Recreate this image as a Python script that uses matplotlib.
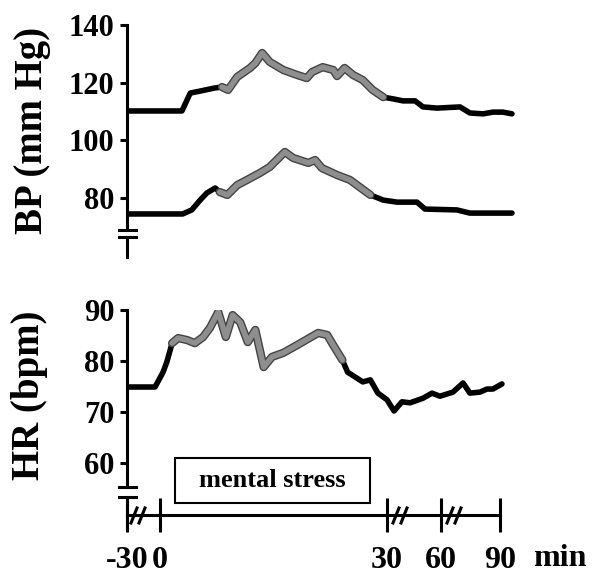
import numpy as np
import matplotlib
matplotlib.use('Agg')
import matplotlib.pyplot as plt
from matplotlib import patheffects as pe
from matplotlib.patches import Rectangle

plt.rcParams['font.family'] = ['Liberation Serif', 'DejaVu Serif']
plt.rcParams['font.weight'] = 'bold'

# systolic BP (mm Hg) vs time (min)
sys_t = [-30, 2.9, 4.0, 5.3, 7.3, 8.2, 9.0, 10.2, 11.9, 12.6, 13.5, 14.5, 16.3, 18.1,
         19.4, 20.1, 21.5, 22.9, 23.4, 24.4, 25.5, 26.8, 28.1, 29.5, 33.3, 38.9, 45.6,
         50, 57.8, 69.7, 74.7, 81.4, 86.4, 91.5, 96.1]
sys_v = [110.2, 110.2, 116.4, 117.1, 118.2, 118.5, 117.5, 122, 125.1, 126.8, 130.3, 127.2,
         124.4, 122.7, 121.6, 123.7, 125.4, 124.4, 122.3, 125.1, 122.7, 120.9, 117.5, 115,
         114.4, 113.7, 113.7, 111.6, 111.2, 111.6, 109.5, 109.2, 109.8, 109.8, 109.2]
sys_gray = (8.2, 29.5)

# diastolic BP
dia_t = [-30, 3.0, 4.2, 5.3, 6.2, 7.3, 7.9, 8.9, 10.2, 11.5, 13.2, 14.5, 16.5, 17.6, 19.6,
         20.5, 21.4, 23.4, 25.1, 26.4, 27.8, 29.5, 35.6, 46.7, 51.1, 68.1, 74.7, 96.1]
dia_v = [74.5, 74.5, 75.9, 79.3, 81.8, 83.5, 82.1, 81.1, 84.5, 86.3, 88.7, 90.8, 96, 93.9,
         92.2, 93.2, 90.4, 88, 86.3, 83.8, 81.1, 79.3, 78.6, 78.6, 76.2, 75.9, 74.8, 74.8]
dia_gray = (7.9, 27.8)

# heart rate (bpm)
hr_t = [-30, -4.5, 0.4, 0.9, 1.6, 2.4, 3.6, 4.6, 5.7, 6.6, 7.7, 8.7, 9.6, 10.6, 11.6, 12.6,
        13.7, 14.8, 16.3, 18.1, 20.9, 22.1, 22.9, 24.1, 24.8, 26.8, 27.8, 28.8, 30.0, 33.9,
        38.3, 42.8, 50, 55, 59.4, 66.1, 71.2, 74.7, 79.8, 83.4, 86.4, 91]
hr_v = [74.9, 74.9, 77.8, 79.8, 83.5, 84.5, 84.1, 83.5, 84.7, 86.5, 89.6, 84.7, 89, 87.6,
        83.7, 86.1, 78.8, 80.8, 81.6, 83.1, 85.5, 85.1, 83.1, 80.2, 77.8, 75.9, 76.3, 73.7,
        72.4, 70.2, 72, 71.8, 72.7, 73.7, 73.1, 73.9, 75.7, 73.7, 73.9, 74.5, 74.5, 75.5]
hr_gray = (1.6, 24.1)

stress_period = (2.0, 27.8)
x_ticks = [-30, 0, 30, 60, 90]
x_labels = ['-30', '0', '30', '60', '90']

# broken time axis: minutes -> pixel offset
BRK_T = [-60, -30, 0, 30, 60, 90, 120]
BRK_PX = [-33, 0, 33, 260, 314, 373, 432]


def fwd(t):
    return np.interp(t, BRK_T, BRK_PX)


def inv(p):
    return np.interp(p, BRK_PX, BRK_T)


W, H = 592, 577
X0 = 127
XMAX = 104
LW = 2.2

fig = plt.figure(figsize=(W / 100, H / 100), dpi=100)
axw = fwd(XMAX) / W
ax1 = fig.add_axes([X0 / W, 1 - 257 / H, axw, 232 / H])
ax2 = fig.add_axes([X0 / W, 1 - 515 / H, axw, 205 / H])

gray_fx = [pe.Stroke(linewidth=6, foreground='#444444'), pe.Normal()]


def draw_series(ax, t, v, gray):
    t = np.array(t)
    v = np.array(v)
    ax.plot(t, v, color='black', lw=4, solid_capstyle='round', solid_joinstyle='round')
    m = (t >= gray[0]) & (t <= gray[1])
    ax.plot(t[m], v[m], color='#8e8e8e', lw=4, solid_capstyle='round',
            solid_joinstyle='round', path_effects=gray_fx)


def y_break(ax, top, bot, low_end):
    tr = ax.get_yaxis_transform()
    ax.spines['left'].set_bounds(top, ax.get_ylim()[1])
    ax.plot([0, 0], [bot, low_end], color='black', lw=LW, transform=tr, clip_on=False)
    hw = 8.5 / (fwd(XMAX))
    for y in (top, bot):
        ax.plot([-hw, hw], [y, y], color='black', lw=LW, transform=tr, clip_on=False)


for ax in (ax1, ax2):
    ax.set_xscale('function', functions=(fwd, inv))
    ax.set_xlim(-30, XMAX)
    for s in ('top', 'right'):
        ax.spines[s].set_visible(False)
    ax.spines['left'].set_linewidth(LW)
    ax.tick_params(axis='y', direction='out', length=5, width=LW, labelsize=22, pad=4)
    ax.patch.set_alpha(0)

# BP panel
draw_series(ax1, sys_t, sys_v, sys_gray)
draw_series(ax1, dia_t, dia_v, dia_gray)
ax1.set_ylim(140 - 232 / 2.885, 140)
ax1.set_yticks([80, 100, 120, 140])
ax1.spines['bottom'].set_visible(False)
ax1.set_xticks([])
y_break(ax1, 140 - 205 / 2.885, 140 - 212 / 2.885, 140 - 232 / 2.885)

# HR panel
draw_series(ax2, hr_t, hr_v, hr_gray)
ax2.set_ylim(90 - 205 / 5.1, 90)
ax2.set_yticks([60, 70, 80, 90])
y_break(ax2, 90 - 177 / 5.1, 90 - 187 / 5.1, 90 - 217 / 5.1)
ax2.spines['bottom'].set_bounds(-30, 90)
ax2.spines['bottom'].set_linewidth(LW)
ax2.set_xticks(x_ticks)
ax2.set_xticklabels(x_labels)
ax2.tick_params(axis='x', direction='inout', length=24, width=LW, labelsize=23, pad=10)

# mental stress box
y_lo, y_hi = 90 - 193 / 5.1, 90 - 148 / 5.1
ax2.add_patch(Rectangle((stress_period[0], y_lo), stress_period[1] - stress_period[0],
                        y_hi - y_lo, fc='white', ec='black', lw=1.5, clip_on=False))
x_mid = inv((fwd(stress_period[0]) + fwd(stress_period[1])) / 2)
ax2.text(x_mid, (y_lo + y_hi) / 2, 'mental stress', ha='center', va='center', fontsize=19)

# x axis break slashes
for cx in (138, 400, 454):
    for off in (-4, 4):
        x = cx + off
        fig.add_artist(plt.Line2D([(x - 3) / W, (x + 3) / W], [1 - 523 / H, 1 - 508 / H],
                                  color='black', lw=LW, transform=fig.transFigure))

fig.text(560 / W, 1 - 558 / H, 'min', ha='center', va='center', fontsize=23)
fig.text(33 / W, 1 - 130 / H, 'BP (mm Hg)', rotation=90, ha='center', va='center', fontsize=28)
fig.text(29 / W, 1 - 395 / H, 'HR (bpm)', rotation=90, ha='center', va='center', fontsize=28)

fig.savefig('out.png', dpi=100)
